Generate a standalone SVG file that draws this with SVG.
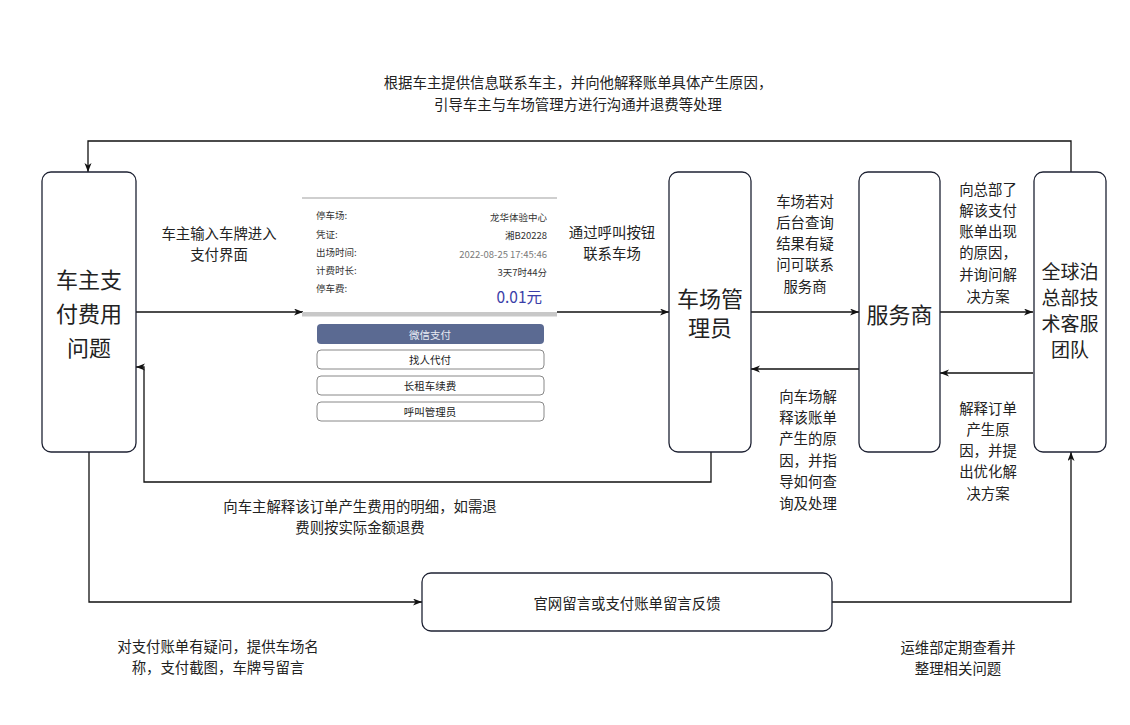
<svg xmlns="http://www.w3.org/2000/svg" width="1130" height="725" viewBox="0 0 1130 725">
<style>
.node{fill:#fff;stroke:#1e2233;stroke-width:1.3}
.big{font-family:"Noto Sans CJK SC","Noto Sans",sans-serif;fill:#222;text-anchor:middle;dominant-baseline:central}
.lbl{font-family:"Noto Sans CJK SC","Noto Sans",sans-serif;font-size:14.4px;fill:#222;text-anchor:middle;dominant-baseline:central}
.con{fill:none;stroke:#111;stroke-width:1.3}
.sm{font-family:"Noto Sans CJK SC","Noto Sans",sans-serif;font-size:9.5px;fill:#333;dominant-baseline:central}
.btn{fill:#fff;stroke:#888;stroke-width:1}
.bt{font-family:"Noto Sans CJK SC","Noto Sans",sans-serif;font-size:10.5px;fill:#222;text-anchor:middle;dominant-baseline:central}
</style>
<defs>
<marker id="arr" markerUnits="userSpaceOnUse" markerWidth="10" markerHeight="8" refX="9" refY="3.5" orient="auto">
<path d="M0 0 L9 3.5 L0 7 L2.5 3.5 z" fill="#111"/>
</marker>
</defs>
<rect width="1130" height="725" fill="#fff"/>

<g id="connectors">
<path class="con" d="M136 312 H303" marker-end="url(#arr)"/>
<path class="con" d="M557 312 H669" marker-end="url(#arr)"/>
<path class="con" d="M751 312 H859" marker-end="url(#arr)"/>
<path class="con" d="M940 312 H1033" marker-end="url(#arr)"/>
<path class="con" d="M859 369 H751" marker-end="url(#arr)"/>
<path class="con" d="M1033 373 H940" marker-end="url(#arr)"/>
<path class="con" d="M711 452 V482 H144 V367 H136" marker-end="url(#arr)"/>
<path class="con" d="M1071 172 V141 H88 V172" marker-end="url(#arr)"/>
<path class="con" d="M89 452 V602 H422" marker-end="url(#arr)"/>
<path class="con" d="M832 602 H1071 V452" marker-end="url(#arr)"/>
</g>

<g id="node-owner">
<rect class="node" x="42" y="172" width="94" height="280" rx="9"/>
<text class="big" font-size="22" x="89" y="278">车主支</text>
<text class="big" font-size="22" x="89" y="312">付费用</text>
<text class="big" font-size="22" x="89" y="346">问题</text>
</g>

<g id="node-pay-screen">
<line x1="302" y1="198" x2="557" y2="198" stroke="#cfcfcf" stroke-width="2"/>
<text class="sm" x="316" y="215">停车场:</text>
<text class="sm" x="316" y="234">凭证:</text>
<text class="sm" x="316" y="252">出场时间:</text>
<text class="sm" x="316" y="270">计费时长:</text>
<text class="sm" x="316" y="288">停车费:</text>
<text class="sm" x="547" y="217" text-anchor="end">龙华体验中心</text>
<text class="sm" x="547" y="235" text-anchor="end">湘B20228</text>
<text class="sm" x="547" y="254" text-anchor="end" style="fill:#7a7a7a">2022-08-25 17:45:46</text>
<text class="sm" x="547" y="272" text-anchor="end">3天7时44分</text>
<text class="sm" x="542" y="296" text-anchor="end" style="font-size:15.5px;fill:#3a3ea8">0.01元</text>
<rect x="302" y="312" width="255" height="4.5" fill="#c8c8c8"/>
<rect x="317" y="324" width="227" height="20" rx="4" fill="#5b6a92"/>
<text class="bt" x="430" y="334" style="fill:#e8ebf4">微信支付</text>
<rect class="btn" x="317" y="350" width="227" height="19" rx="4"/>
<text class="bt" x="430" y="359.5">找人代付</text>
<rect class="btn" x="317" y="376" width="227" height="19" rx="4"/>
<text class="bt" x="430" y="385.5">长租车续费</text>
<rect class="btn" x="317" y="402" width="227" height="19" rx="4"/>
<text class="bt" x="430" y="411.5">呼叫管理员</text>
</g>

<g id="node-lot-admin">
<rect class="node" x="669" y="172" width="82" height="280" rx="9"/>
<text class="big" font-size="22" x="710" y="297">车场管</text>
<text class="big" font-size="22" x="710" y="326">理员</text>
</g>

<g id="node-provider">
<rect class="node" x="859" y="172" width="81" height="280" rx="9"/>
<text class="big" font-size="22" x="899.5" y="313">服务商</text>
</g>

<g id="node-hq">
<rect class="node" x="1034" y="172" width="72" height="280" rx="9"/>
<text class="big" font-size="19" x="1070" y="270">全球泊</text>
<text class="big" font-size="19" x="1070" y="296">总部技</text>
<text class="big" font-size="19" x="1070" y="322">术客服</text>
<text class="big" font-size="19" x="1070" y="348">团队</text>
</g>

<g id="node-feedback">
<rect class="node" x="422" y="573" width="410" height="58" rx="9"/>
<text class="lbl" x="627" y="602">官网留言或支付账单留言反馈</text>
</g>

<g id="labels">
<text class="lbl" x="578" y="81">根据车主提供信息联系车主，并向他解释账单具体产生原因，</text>
<text class="lbl" x="578" y="103">引导车主与车场管理方进行沟通并退费等处理</text>

<text class="lbl" x="219" y="232">车主输入车牌进入</text>
<text class="lbl" x="219" y="253">支付界面</text>

<text class="lbl" x="612" y="231">通过呼叫按钮</text>
<text class="lbl" x="612" y="252">联系车场</text>

<text class="lbl" x="805" y="200">车场若对</text>
<text class="lbl" x="805" y="221">后台查询</text>
<text class="lbl" x="805" y="242">结果有疑</text>
<text class="lbl" x="805" y="263">问可联系</text>
<text class="lbl" x="805" y="285">服务商</text>

<text class="lbl" x="988" y="188">向总部了</text>
<text class="lbl" x="988" y="209">解该支付</text>
<text class="lbl" x="988" y="230">账单出现</text>
<text class="lbl" x="988" y="251">的原因，</text>
<text class="lbl" x="988" y="273">并询问解</text>
<text class="lbl" x="988" y="295">决方案</text>

<text class="lbl" x="808" y="395">向车场解</text>
<text class="lbl" x="808" y="416">释该账单</text>
<text class="lbl" x="808" y="437">产生的原</text>
<text class="lbl" x="808" y="459">因，并指</text>
<text class="lbl" x="808" y="480">导如何查</text>
<text class="lbl" x="808" y="502">询及处理</text>

<text class="lbl" x="988" y="407">解释订单</text>
<text class="lbl" x="988" y="428">产生原</text>
<text class="lbl" x="988" y="449">因，并提</text>
<text class="lbl" x="988" y="470">出优化解</text>
<text class="lbl" x="988" y="492">决方案</text>

<text class="lbl" x="360" y="505">向车主解释该订单产生费用的明细，如需退</text>
<text class="lbl" x="360" y="526">费则按实际金额退费</text>

<text class="lbl" x="218" y="645">对支付账单有疑问，提供车场名</text>
<text class="lbl" x="218" y="666">称，支付截图，车牌号留言</text>

<text class="lbl" x="958" y="646">运维部定期查看并</text>
<text class="lbl" x="958" y="667">整理相关问题</text>
</g>
</svg>
